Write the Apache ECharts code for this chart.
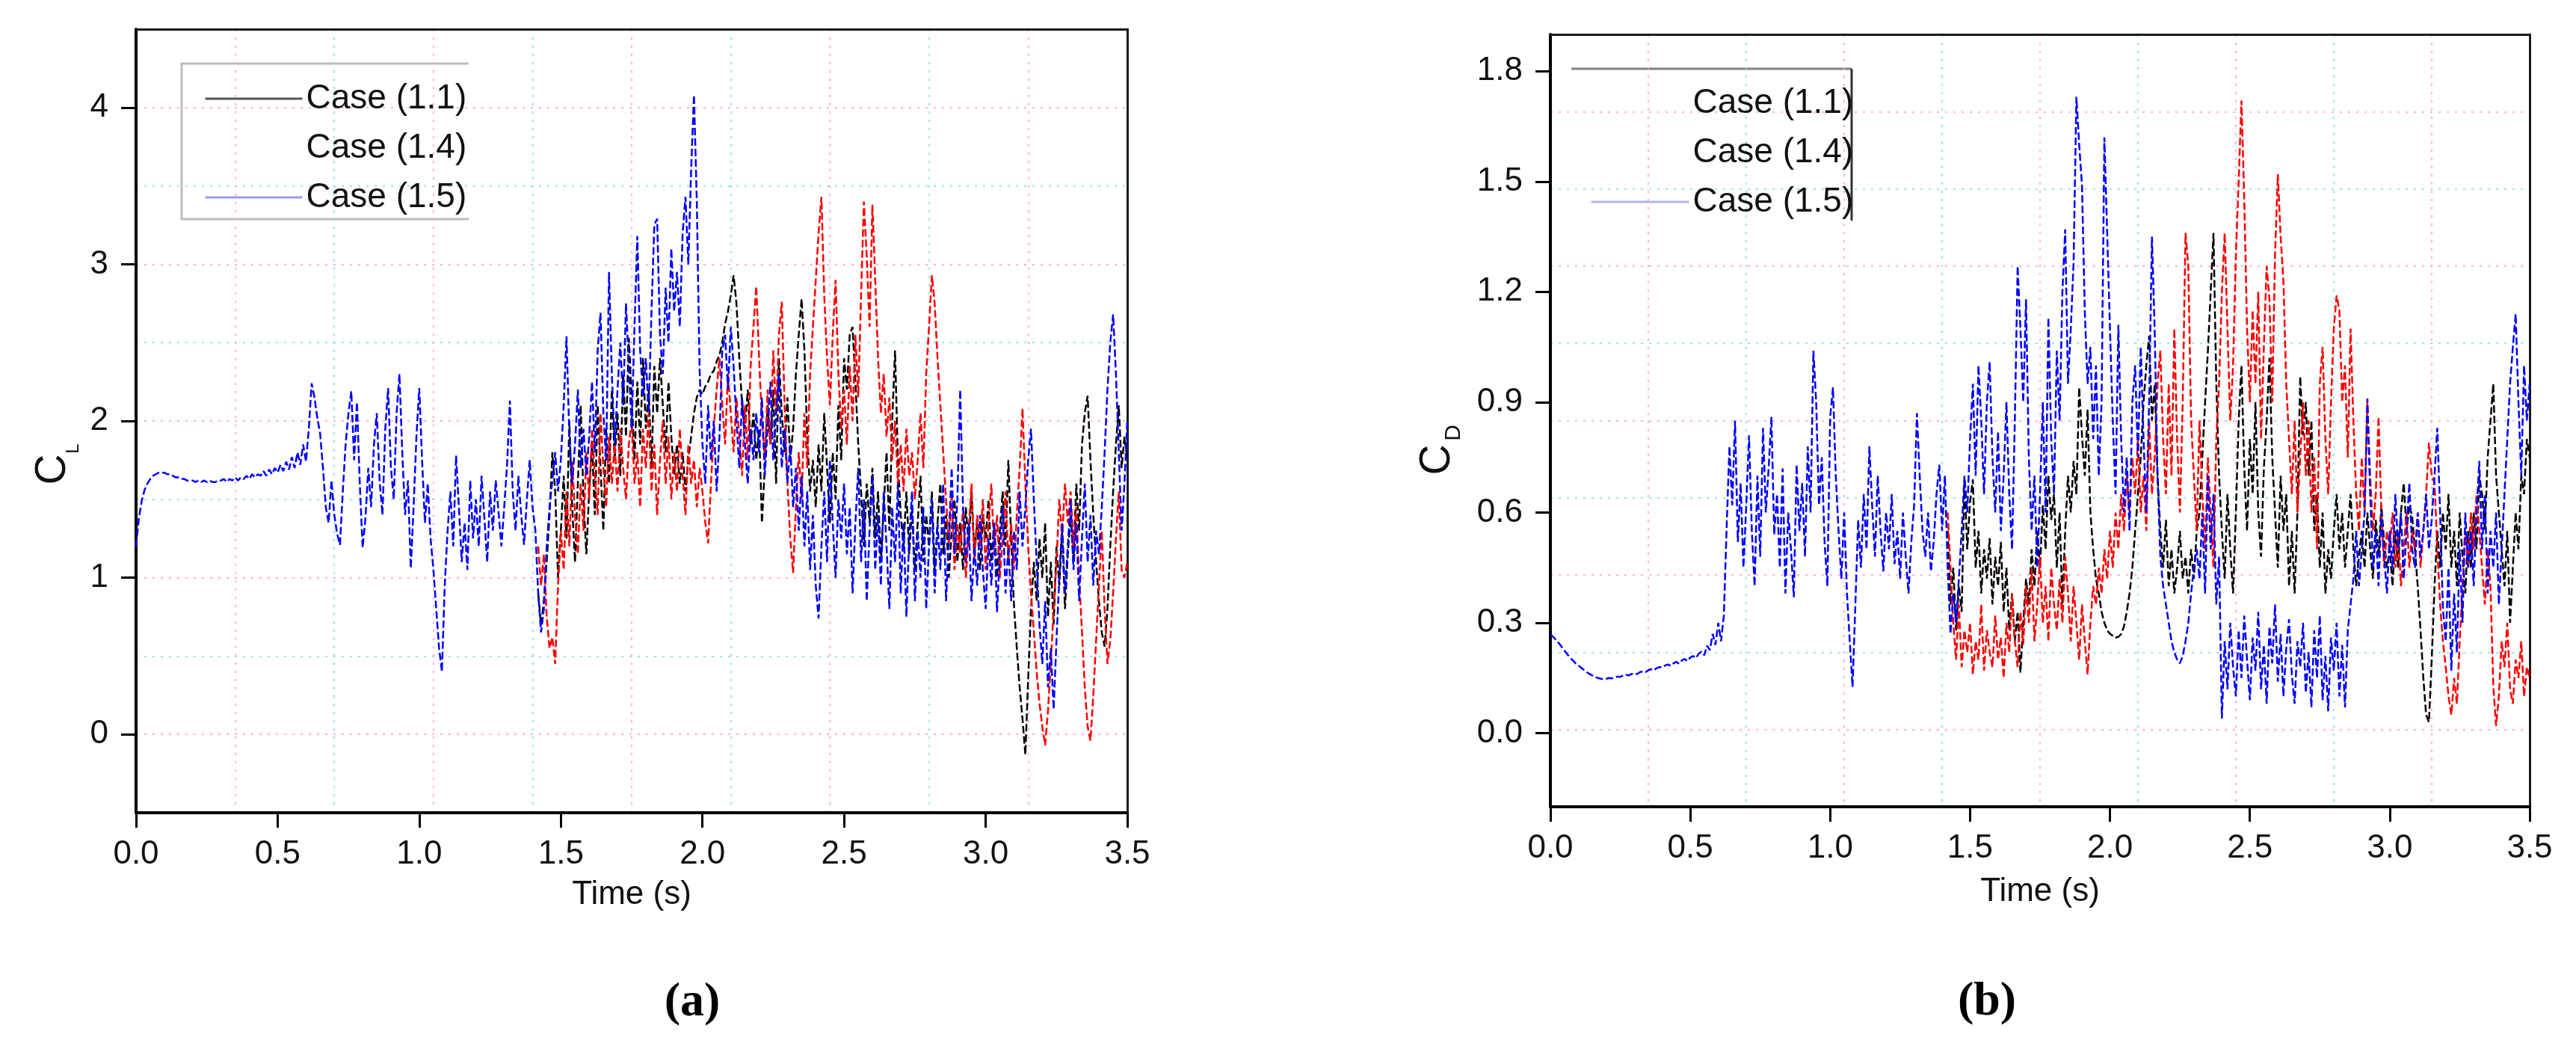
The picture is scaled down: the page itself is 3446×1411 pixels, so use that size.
<!DOCTYPE html>
<html><head><meta charset="utf-8">
<script src="https://cdn.jsdelivr.net/npm/echarts@6/dist/echarts.min.js"></script>
<style>html,body{margin:0;padding:0;background:#fff}#c{width:3446px;height:1411px}</style>
</head><body><div id="c"></div>
<script>
// ---------- data ----------
const SAMPLE_STEP = 0.01;
const LATE_START = 1.42;           // s, cases 1.1 and 1.4 depart from case 1.5 here
const seriesNames = ['Case (1.1)', 'Case (1.4)', 'Case (1.5)'];
const xTickValues = [0, 0.5, 1, 1.5, 2, 2.5, 3, 3.5];
const clTickValues = [0, 1, 2, 3, 4];
const cdTickValues = [0, 0.3, 0.6, 0.9, 1.2, 1.5, 1.8];

// (a) lift coefficient C_L
const clCase15 = [
1.20,1.38,1.49,1.56,1.60,1.63,1.65,1.66,1.67,1.67,
1.67,1.66,1.66,1.65,1.64,1.64,1.63,1.63,1.62,1.62,
1.62,1.61,1.62,1.61,1.62,1.61,1.62,1.61,1.61,1.62,
1.62,1.63,1.61,1.63,1.62,1.64,1.62,1.64,1.63,1.65,
1.63,1.66,1.64,1.66,1.65,1.68,1.65,1.69,1.66,1.70,
1.67,1.72,1.68,1.74,1.69,1.77,1.70,1.80,1.72,1.85,
1.74,1.95,2.24,2.15,2.02,1.92,1.70,1.45,1.35,1.62,
1.40,1.28,1.21,1.55,1.85,2.05,2.19,1.75,2.12,1.60,
1.19,1.38,1.70,1.45,1.85,2.05,1.62,1.40,1.95,2.21,
1.70,1.50,2.05,2.30,1.80,1.40,1.62,1.06,1.45,1.90,
2.21,1.75,1.35,1.60,1.25,1.05,0.80,0.55,0.40,0.95,
1.30,1.55,1.20,1.78,1.45,1.10,1.35,1.05,1.62,1.25,
1.50,1.20,1.65,1.38,1.10,1.55,1.30,1.62,1.42,1.20,
1.45,1.72,2.13,1.55,1.30,1.65,1.40,1.21,1.50,1.75,
1.45,1.30,0.90,0.65,0.80,1.20,1.45,1.62,1.80,1.55,
1.75,2.10,2.54,1.90,1.60,1.85,2.20,1.70,1.95,1.65,
1.90,2.25,1.80,2.45,2.69,2.05,1.75,2.95,2.30,1.85,
2.20,2.50,2.10,2.75,2.35,1.95,2.60,3.18,2.45,2.15,
2.40,2.05,2.70,3.25,3.29,2.55,2.30,2.85,2.50,3.10,
2.70,2.95,2.60,3.20,3.43,3.00,3.60,4.08,3.40,2.32,
1.85,1.60,2.10,1.75,2.00,1.55,1.90,2.45,2.55,2.20,
2.60,2.35,2.00,1.70,2.15,1.85,1.60,1.95,1.75,2.05,
1.80,2.15,1.65,1.95,2.25,1.75,2.05,2.30,1.70,1.95,
1.60,1.85,1.45,1.70,1.30,1.65,1.20,1.55,1.05,1.40,
0.95,0.74,1.20,1.55,1.10,1.75,1.35,1.00,1.50,1.25,
1.60,1.15,1.45,0.90,1.35,1.70,1.10,1.50,0.85,1.30,
1.65,1.05,1.40,0.95,1.55,1.20,0.80,1.45,1.10,1.60,
0.90,1.35,0.75,1.25,1.55,0.85,1.30,1.00,1.45,0.80,
1.20,1.50,0.90,1.35,1.05,1.60,0.85,1.25,1.70,1.15,
1.50,2.20,1.45,1.10,1.35,0.85,1.20,0.95,1.40,1.05,
0.80,1.25,0.95,1.35,0.78,1.15,1.45,0.90,1.20,0.85,
1.30,1.05,1.55,1.20,1.45,1.75,1.95,1.50,1.10,0.70,
0.45,0.85,0.30,0.55,0.16,0.60,1.00,1.35,0.90,1.20,
1.50,1.05,1.35,0.85,1.25,1.60,1.10,1.40,0.95,1.30,
1.15,1.45,1.80,2.20,2.50,2.68,2.30,1.80,1.30,1.60,
2.00];
const clCase11 = [
0.90,0.70,0.85,1.10,1.40,1.80,1.55,1.00,
1.30,1.65,1.25,2.00,1.45,1.10,1.60,2.10,1.50,1.15,
1.55,1.85,1.40,2.10,1.70,1.30,1.95,1.60,2.20,1.75,
2.05,1.65,2.30,1.90,2.53,2.15,1.75,2.25,1.85,2.40,
1.95,2.20,1.70,2.35,2.05,2.40,2.10,1.80,2.25,1.90,
1.65,1.85,1.60,1.80,1.55,1.75,1.90,2.05,2.15,2.20,
2.17,2.22,2.25,2.30,2.32,2.38,2.42,2.50,2.62,2.70,
2.80,2.93,2.75,2.40,2.10,1.95,2.20,1.85,2.05,1.75,
1.95,1.35,1.70,2.10,1.85,2.20,1.60,2.40,2.05,1.80,
2.15,1.75,1.95,2.30,2.55,2.78,2.45,1.90,1.55,1.75,
1.45,1.85,1.55,2.05,1.70,1.35,1.80,1.50,2.10,1.75,
2.40,2.20,2.55,2.60,2.25,1.85,1.55,1.20,1.60,1.35,
1.70,1.25,1.55,1.10,1.45,1.80,1.30,2.00,2.45,1.75,
1.40,1.20,1.55,1.15,1.45,1.05,1.35,1.65,1.10,1.40,
1.20,1.55,1.05,1.35,1.60,1.15,1.40,1.00,1.30,1.50,
1.10,1.35,1.05,1.45,1.20,1.55,1.15,1.35,1.05,1.40,
1.25,1.50,1.10,1.35,1.00,1.30,1.55,1.20,1.75,1.25,
0.82,0.55,0.30,0.10,-0.13,0.35,0.80,1.10,0.85,1.25,
1.00,1.35,0.75,1.10,0.70,1.20,0.95,1.30,0.80,1.15,
1.40,1.10,1.60,1.30,1.85,2.05,2.16,1.75,1.40,1.10,
0.85,0.65,0.56,0.80,1.20,1.55,1.85,2.10,1.70,1.90,
1.75];
const clCase14 = [
1.20,0.95,1.15,0.75,0.55,0.62,0.45,0.95,
1.30,1.05,1.55,1.20,1.75,1.40,1.15,1.60,1.30,1.80,
1.50,1.95,1.65,1.40,2.05,1.70,1.45,1.90,1.60,1.85,
1.55,1.95,1.70,1.50,1.85,2.00,1.60,1.80,1.45,1.95,
1.70,2.05,1.55,1.85,1.40,1.75,2.00,1.60,1.90,1.50,
1.80,1.55,1.95,1.65,1.40,1.85,1.60,1.75,1.45,1.70,
1.55,1.35,1.22,1.60,1.95,2.20,2.40,2.10,1.85,2.30,
2.05,1.80,2.15,1.90,1.65,2.10,1.75,2.35,2.60,2.86,
2.40,2.00,1.75,2.20,1.85,2.45,2.05,2.55,2.76,2.10,
1.60,1.25,1.03,1.45,1.80,1.50,2.05,1.70,2.30,2.60,
2.90,3.20,3.43,2.80,2.40,2.10,2.55,2.90,2.30,1.95,
2.20,1.85,2.35,2.00,2.55,2.15,2.80,3.40,3.05,2.60,
3.38,2.90,2.40,2.05,2.30,1.90,2.15,1.75,2.00,1.60,
1.85,1.55,1.95,1.65,1.80,1.50,1.75,2.05,1.70,2.30,
2.60,2.93,2.75,2.40,2.10,1.80,1.50,1.20,1.55,1.05,
1.35,1.15,1.45,1.00,1.30,1.60,1.10,1.40,1.20,1.50,
1.05,1.35,1.60,1.15,1.40,1.00,1.25,1.55,1.10,1.35,
1.05,1.40,1.70,2.08,1.60,1.20,0.90,0.66,0.40,0.20,
0.05,-0.07,0.15,0.45,0.80,1.10,1.50,1.25,1.60,1.35,
1.55,1.20,1.45,1.00,0.66,0.30,0.05,-0.04,0.25,0.60,
0.95,1.30,0.80,0.45,0.60,0.90,1.25,1.55,1.05,1.00,
1.10];

// (b) drag coefficient C_D
const cdCase15 = [
0.268,0.262,0.254,0.245,0.235,0.225,0.215,0.206,0.198,0.190,
0.184,0.178,0.172,0.166,0.161,0.157,0.153,0.150,0.148,0.147,
0.148,0.150,0.149,0.152,0.154,0.153,0.157,0.159,0.157,0.161,
0.163,0.161,0.166,0.168,0.166,0.171,0.174,0.171,0.177,0.180,
0.178,0.184,0.187,0.183,0.190,0.194,0.189,0.198,0.202,0.196,
0.206,0.210,0.204,0.216,0.222,0.212,0.238,0.226,0.270,0.240,
0.300,0.250,0.320,0.560,0.780,0.620,0.850,0.520,0.680,0.450,
0.620,0.810,0.550,0.400,0.700,0.480,0.830,0.600,0.720,0.860,
0.540,0.650,0.450,0.720,0.380,0.600,0.500,0.370,0.730,0.550,
0.680,0.480,0.780,0.600,1.040,0.900,0.620,0.750,0.520,0.400,
0.860,0.940,0.700,0.550,0.420,0.600,0.380,0.250,0.126,0.350,
0.580,0.450,0.650,0.500,0.780,0.620,0.480,0.700,0.550,0.440,
0.600,0.500,0.650,0.460,0.550,0.420,0.600,0.480,0.380,0.520,
0.620,0.870,0.700,0.550,0.480,0.600,0.440,0.520,0.650,0.730,
0.550,0.700,0.450,0.270,0.380,0.300,0.420,0.550,0.700,0.600,
0.800,0.950,0.700,1.000,0.850,0.650,0.900,1.010,0.750,0.600,
0.820,0.550,0.700,0.900,0.650,0.500,0.850,1.270,1.100,0.900,
1.180,0.750,0.550,0.700,0.450,0.650,0.900,0.600,1.130,0.800,
0.650,1.040,0.850,1.200,1.370,0.950,1.100,1.280,1.730,1.600,
1.490,1.150,0.950,1.050,0.800,1.000,0.700,0.900,1.620,1.360,
1.100,0.850,0.650,1.110,0.800,0.600,0.750,0.550,0.900,1.000,
0.750,1.050,0.800,0.600,0.900,1.350,1.090,0.700,0.480,0.400,
0.350,0.300,0.250,0.220,0.200,0.190,0.210,0.250,0.300,0.380,
0.450,0.500,0.420,0.600,0.380,0.700,0.500,0.650,0.350,0.480,
0.040,0.250,0.120,0.300,0.180,0.100,0.280,0.150,0.320,0.200,
0.090,0.260,0.170,0.330,0.120,0.240,0.080,0.290,0.190,0.350,
0.140,0.270,0.100,0.230,0.310,0.160,0.080,0.250,0.180,0.300,
0.110,0.220,0.070,0.280,0.150,0.320,0.090,0.210,0.060,0.260,
0.170,0.300,0.100,0.240,0.070,0.280,0.350,0.420,0.550,0.400,
0.500,0.600,0.910,0.650,0.450,0.550,0.400,0.600,0.480,0.380,
0.550,0.450,0.650,0.500,0.600,0.420,0.550,0.680,0.500,0.450,
0.600,0.480,0.550,0.650,0.500,0.580,0.700,0.830,0.600,0.340,
0.250,0.450,0.170,0.380,0.220,0.500,0.300,0.600,0.450,0.550,
0.400,0.600,0.740,0.500,0.650,0.380,0.550,0.450,0.600,0.350,
0.500,0.650,0.800,0.950,1.050,1.140,0.900,0.700,1.000,0.850,
0.950];
const cdCase11 = [
0.550,0.350,0.450,0.280,0.400,0.330,0.690,0.500,
0.630,0.690,0.450,0.550,0.380,0.500,0.420,0.530,0.350,0.480,
0.400,0.520,0.330,0.450,0.280,0.380,0.250,0.330,0.165,0.300,
0.420,0.350,0.500,0.400,0.550,0.450,0.620,0.500,0.700,0.580,
0.650,0.450,0.600,0.350,0.550,0.700,0.600,0.740,0.650,0.940,
0.810,0.700,0.880,0.600,0.500,0.420,0.380,0.330,0.300,0.280,
0.270,0.265,0.260,0.262,0.270,0.290,0.330,0.380,0.450,0.550,
0.650,0.750,0.900,1.000,1.080,0.850,0.950,0.700,0.550,0.450,
0.580,0.400,0.500,0.380,0.450,0.550,0.420,0.480,0.380,0.500,
0.420,0.550,0.600,0.750,0.900,1.040,1.200,1.360,0.950,0.700,
0.550,0.420,0.650,0.500,0.380,0.600,0.850,1.000,0.720,0.550,
0.800,0.650,0.900,0.600,0.480,0.720,0.850,1.020,0.750,0.600,
0.450,0.700,0.550,0.650,0.400,0.550,0.380,0.600,0.970,0.810,
0.900,0.700,0.850,0.550,0.650,0.450,0.600,0.380,0.500,0.420,
0.550,0.650,0.500,0.600,0.450,0.550,0.650,0.500,0.400,0.480,
0.550,0.450,0.600,0.500,0.420,0.580,0.480,0.620,0.520,0.450,
0.500,0.400,0.550,0.450,0.600,0.680,0.550,0.620,0.590,0.500,
0.400,0.280,0.150,0.050,0.030,0.200,0.400,0.550,0.450,0.600,
0.500,0.650,0.450,0.550,0.400,0.600,0.480,0.380,0.550,0.450,
0.600,0.500,0.700,0.650,0.550,0.750,0.850,0.950,0.700,0.600,
0.500,0.400,0.550,0.300,0.450,0.600,0.500,0.700,0.650,0.800,
0.750];
const cdCase14 = [
0.600,0.450,0.300,0.200,0.350,0.180,0.280,0.220,
0.300,0.160,0.250,0.200,0.350,0.170,0.280,0.220,0.180,0.320,
0.200,0.260,0.150,0.300,0.220,0.380,0.250,0.180,0.330,0.240,
0.400,0.300,0.450,0.250,0.350,0.480,0.300,0.400,0.250,0.450,
0.350,0.280,0.420,0.300,0.480,0.380,0.250,0.400,0.300,0.200,
0.350,0.250,0.160,0.300,0.400,0.350,0.450,0.380,0.500,0.420,
0.550,0.450,0.600,0.500,0.650,0.550,0.700,0.600,0.750,0.650,
0.800,0.600,0.700,0.550,0.850,0.650,0.750,0.950,1.040,0.800,
0.650,0.950,0.700,1.100,0.800,0.600,0.900,1.360,1.270,0.850,
0.700,0.550,0.850,0.650,0.500,0.750,0.600,0.450,0.800,0.950,
1.200,1.360,1.100,0.850,1.000,1.300,1.500,1.720,1.450,1.100,
0.900,1.150,0.950,1.200,0.800,1.050,1.270,1.180,0.900,1.300,
1.520,1.350,1.230,0.950,0.800,0.650,0.850,0.600,0.750,0.900,
0.700,0.850,0.600,0.750,0.500,0.950,1.050,0.800,0.650,0.900,
1.100,1.190,1.150,0.900,1.000,0.750,1.100,0.850,0.650,0.550,
0.750,0.600,0.900,0.700,0.550,0.650,0.860,0.600,0.450,0.550,
0.500,0.600,0.450,0.550,0.400,0.500,0.600,0.450,0.550,0.500,
0.600,0.450,0.550,0.650,0.790,0.700,0.680,0.500,0.350,0.250,
0.180,0.100,0.050,0.150,0.080,0.250,0.400,0.550,0.450,0.600,
0.500,0.650,0.550,0.450,0.350,0.500,0.400,0.130,0.020,0.100,
0.250,0.180,0.300,0.120,0.080,0.200,0.150,0.250,0.100,0.180,
0.150];

// ---------- helpers ----------
function toPairs(values, t0) {
  return values.map((v, i) => [Math.round((t0 + i * SAMPLE_STEP) * 100) / 100, v]);
}
const FONT = '"Liberation Sans", Arial, Helvetica, sans-serif';
const SERIF = '"Liberation Serif", "Times New Roman", serif';
const COLORS = { 'Case (1.1)': '#000000', 'Case (1.4)': '#ff0000', 'Case (1.5)': '#0000ff' };
const PINK = 'rgba(250,165,215,0.85)';
const CYAN = 'rgba(130,228,232,0.85)';

function mainX(gridIndex) {
  return {
    gridIndex, type: 'value', min: 0, max: 3.5,
    axisLine: { show: true, onZero: false, lineStyle: { color: '#000', width: 4 } },
    axisTick: { show: true, inside: false, length: 20, lineStyle: { color: '#000', width: 3 }, customValues: xTickValues },
    axisLabel: { show: true, margin: 34, fontSize: 44, fontFamily: FONT, color: '#111', customValues: xTickValues,
                 formatter: v => v.toFixed(1) },
    splitLine: { show: false },
    name: 'Time (s)', nameLocation: 'middle', nameGap: gridIndex === 0 ? 88 : 92,
    nameTextStyle: { fontSize: 44, fontFamily: FONT, color: '#111' }
  };
}
function mainY(gridIndex, min, max, ticks, digits) {
  return {
    gridIndex, type: 'value', min, max,
    axisLine: { show: true, onZero: false, lineStyle: { color: '#000', width: 4 } },
    axisTick: { show: true, inside: false, length: 20, lineStyle: { color: '#000', width: 3 }, customValues: ticks },
    axisLabel: { show: true, margin: 37, fontSize: 44, fontFamily: FONT, color: '#111', customValues: ticks,
                 formatter: v => v.toFixed(digits) },
    splitLine: { show: false }
  };
}
// 10-division frame grid (as in the original plot), alternating pink / cyan dotted lines;
// its axis line closes the frame on the top / right side
function gridAxis(gridIndex, position) {
  return {
    gridIndex, type: 'value', min: 0, max: 10, interval: 1, position,
    axisLine: { show: true, onZero: false, lineStyle: { color: '#1a1a1a', width: 3 } },
    axisTick: { show: false }, axisLabel: { show: false },
    splitLine: { show: true, lineStyle: { color: [CYAN, PINK], width: 2, type: [3, 8] } }
  };
}
function line(name, values, t0, xi, yi) {
  return {
    type: 'line', name, xAxisIndex: xi, yAxisIndex: yi,
    data: toPairs(values, t0), symbol: 'none', showSymbol: false,
    lineStyle: { color: COLORS[name], width: 2.5, type: [10, 4] }, itemStyle: { color: COLORS[name] },
    animation: false, silent: true
  };
}
const hiddenIcon = { lineStyle: { color: 'rgba(0,0,0,0)', width: 0, opacity: 0 }, itemStyle: { opacity: 0 } };

const chart = echarts.init(document.getElementById('c'), null, { renderer: 'canvas' });
chart.setOption({
  animation: false,
  backgroundColor: '#fff',
  grid: [
    { left: 182, top: 39, width: 1326, height: 1048, show: false },
    { left: 2074, top: 46, width: 1310, height: 1033, show: false }
  ],
  xAxis: [ mainX(0), mainX(1), gridAxis(0, 'top'), gridAxis(1, 'top') ],
  yAxis: [ mainY(0, -0.5, 4.5, clTickValues, 0), mainY(1, -0.2, 1.9, cdTickValues, 1),
           gridAxis(0, 'right'), gridAxis(1, 'right') ],
  legend: [
    { left: 268, top: 102, orient: 'vertical', itemWidth: 130, itemHeight: 14, itemGap: 16, selectedMode: false,
      textStyle: { fontSize: 46, fontFamily: FONT, color: '#111', lineHeight: 50 },
      data: [
        { name: seriesNames[0], lineStyle: { color: '#555', width: 3, type: 'solid' }, itemStyle: { opacity: 0 } },
        Object.assign({ name: seriesNames[1] }, hiddenIcon),
        { name: seriesNames[2], lineStyle: { color: '#9a9af2', width: 3, type: 'solid' }, itemStyle: { opacity: 0 } }
      ] },
    { left: 2122, top: 108, orient: 'vertical', itemWidth: 131, itemHeight: 14, itemGap: 16, selectedMode: false,
      textStyle: { fontSize: 46, fontFamily: FONT, color: '#111', lineHeight: 50 },
      data: [
        Object.assign({ name: seriesNames[0] }, hiddenIcon),
        Object.assign({ name: seriesNames[1] }, hiddenIcon),
        { name: seriesNames[2], lineStyle: { color: '#b4b4f0', width: 3, type: 'solid' }, itemStyle: { opacity: 0 } }
      ] }
  ],
  series: [
    line(seriesNames[0], clCase11, LATE_START, 0, 0),
    line(seriesNames[1], clCase14, LATE_START, 0, 0),
    line(seriesNames[2], clCase15, 0, 0, 0),
    line(seriesNames[0], cdCase11, LATE_START, 1, 1),
    line(seriesNames[1], cdCase14, LATE_START, 1, 1),
    line(seriesNames[2], cdCase15, 0, 1, 1)
  ],
  graphic: [
    { type: 'polyline', silent: true, shape: { points: [[627, 85], [243, 85], [243, 293], [627, 293]] },
      style: { stroke: '#bdbdbd', lineWidth: 3, fill: null } },
    { type: 'polyline', silent: true, shape: { points: [[2102, 92], [2477, 92]] },
      style: { stroke: '#808080', lineWidth: 3, fill: null } },
    { type: 'polyline', silent: true, shape: { points: [[2477, 92], [2477, 295]] },
      style: { stroke: '#333', lineWidth: 3, fill: null } },
    { type: 'text', x: 71, y: 628, rotation: Math.PI / 2, silent: true,
      style: { text: 'C', fontSize: 57, fontFamily: FONT, fill: '#111', textAlign: 'center', textVerticalAlign: 'middle' } },
    { type: 'text', x: 98, y: 600, rotation: Math.PI / 2, silent: true,
      style: { text: 'L', fontSize: 24, fontFamily: FONT, fill: '#111', textAlign: 'center', textVerticalAlign: 'middle' } },
    { type: 'text', x: 1923, y: 615, rotation: Math.PI / 2, silent: true,
      style: { text: 'C', fontSize: 57, fontFamily: FONT, fill: '#111', textAlign: 'center', textVerticalAlign: 'middle' } },
    { type: 'text', x: 1945, y: 579, rotation: Math.PI / 2, silent: true,
      style: { text: 'D', fontSize: 30, fontFamily: FONT, fill: '#111', textAlign: 'center', textVerticalAlign: 'middle' } },
    { type: 'text', x: 926, y: 1341, silent: true,
      style: { text: '(a)', fontSize: 64, fontWeight: 'bold', fontFamily: SERIF, fill: '#000', textAlign: 'center', textVerticalAlign: 'middle' } },
    { type: 'text', x: 2658, y: 1340, silent: true,
      style: { text: '(b)', fontSize: 64, fontWeight: 'bold', fontFamily: SERIF, fill: '#000', textAlign: 'center', textVerticalAlign: 'middle' } }
  ]
});
</script>
</body></html>
